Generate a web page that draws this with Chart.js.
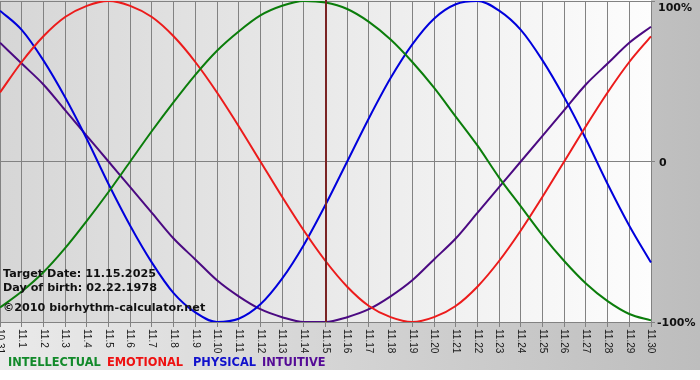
<!DOCTYPE html>
<html>
<head>
<meta charset="utf-8">
<title>Biorhythm</title>
<script src="https://cdn.jsdelivr.net/npm/chart.js@4.4.1/dist/chart.umd.min.js"></script>
<style>
    html, body { margin: 0; padding: 0; background: #fff; }
    #wrap { position: relative; width: 700px; height: 380px; }
</style>
</head>
<body>
<div id="wrap"><canvas id="bioChart"></canvas></div>
<script>
// 日期（横轴）
const days = ['10.31', '11.1', '11.2', '11.3', '11.4', '11.5', '11.6', '11.7', '11.8', '11.9',
    '11.10', '11.11', '11.12', '11.13', '11.14', '11.15', '11.16', '11.17', '11.18', '11.19',
    '11.20', '11.21', '11.22', '11.23', '11.24', '11.25', '11.26', '11.27', '11.28', '11.29', '11.30'];

// 曲线数值（-1 .. 1）
const intellectual = [-0.91, -0.81, -0.69, -0.54, -0.37, -0.19, 0.00, 0.19, 0.37, 0.54, 0.69, 0.81, 0.91, 0.97, 1.00, 0.99,
    0.95, 0.87, 0.76, 0.62, 0.46, 0.28, 0.10, -0.10, -0.28, -0.46, -0.62, -0.76, -0.87, -0.95, -0.99];
const emotional = [0.43, 0.62, 0.78, 0.90, 0.97, 1.00, 0.97, 0.90, 0.78, 0.62, 0.43, 0.22, 0.00, -0.22, -0.43, -0.62,
    -0.78, -0.90, -0.97, -1.00, -0.97, -0.90, -0.78, -0.62, -0.43, -0.22, 0.00, 0.22, 0.43, 0.62, 0.78];
const physical = [0.94, 0.82, 0.63, 0.40, 0.14, -0.14, -0.40, -0.63, -0.82, -0.94, -1.00, -0.98, -0.89, -0.73, -0.52, -0.27,
    0.00, 0.27, 0.52, 0.73, 0.89, 0.98, 1.00, 0.94, 0.82, 0.63, 0.40, 0.14, -0.14, -0.40, -0.63];
const intuitive = [0.74, 0.61, 0.48, 0.32, 0.16, 0.00, -0.16, -0.32, -0.48, -0.61, -0.74, -0.84, -0.92, -0.97, -1.00, -1.00,
    -0.97, -0.92, -0.84, -0.74, -0.61, -0.48, -0.32, -0.16, 0.00, 0.16, 0.32, 0.48, 0.61, 0.74, 0.84];

// 右侧刻度
const yTicks = [1, 0, -1];
const yTickLabels = ['100%', '0', '-100%'];

const seriesNames = ['INTELLECTUAL', 'EMOTIONAL', 'PHYSICAL', 'INTUITIVE'];
const targetDay = '11.15';
const infoLines = ['Target Date: 11.15.2025', 'Day of birth: 02.22.1978', '\u00a92010 biorhythm-calculator.net'];

const lineColors = ['#0b7d0b', '#ec1b1b', '#0000dc', '#4b0a82'];
const textColors = ['#128a2a', '#ee1111', '#1111cc', '#540a96'];
const legendX = [8, 107, 193, 262];

// 背景
const backgroundPlugin = {
    id: 'bioBackground',
    beforeDraw(chart) {
        const { ctx, width, height, chartArea: a } = chart;
        ctx.save();
        ctx.fillStyle = '#ffffff';
        ctx.fillRect(0, 0, width, height);
        let g = ctx.createLinearGradient(0, 0, width, 0);
        g.addColorStop(0, '#eaeaea');
        g.addColorStop(1, '#bdbdbd');
        ctx.fillStyle = g;
        ctx.fillRect(0, 0, width, 370);
        g = ctx.createLinearGradient(a.left, 0, a.right, 0);
        g.addColorStop(0, '#d6d6d6');
        g.addColorStop(1, '#fdfdfd');
        ctx.fillStyle = g;
        ctx.fillRect(a.left, 0, a.right - a.left, a.bottom);
        ctx.restore();
    }
};

// 目标日竖线 + 说明文字
const overlayPlugin = {
    id: 'bioOverlay',
    afterDatasetsDraw(chart) {
        const { ctx, chartArea: a } = chart;
        const x = Math.round(chart.scales.x.getPixelForValue(days.indexOf(targetDay)));
        ctx.save();
        ctx.strokeStyle = '#7a2424';
        ctx.lineWidth = 2;
        ctx.beginPath();
        ctx.moveTo(x, 0);
        ctx.lineTo(x, a.bottom);
        ctx.stroke();

        ctx.fillStyle = '#111';
        ctx.font = 'bold 11.2px "DejaVu Sans"';
        ctx.textAlign = 'left';
        ctx.textBaseline = 'alphabetic';
        const baselines = [277, 291, 311];
        infoLines.forEach((t, i) => ctx.fillText(t, 3, baselines[i]));
        ctx.restore();
    },
    afterDraw(chart) {
        const { ctx, chartArea: a } = chart;
        const xs = chart.scales.x;
        const ys = chart.scales.y;
        ctx.save();

        // 横轴日期（竖排）
        ctx.fillStyle = '#1a1a1a';
        ctx.font = '10px "Liberation Sans"';
        ctx.textAlign = 'left';
        ctx.textBaseline = 'middle';
        days.forEach((d, i) => {
            const x = xs.getPixelForValue(i);
            ctx.save();
            ctx.translate(x, a.bottom + 7);
            ctx.rotate(Math.PI / 2);
            ctx.fillText(d, 0, 0);
            ctx.restore();
        });

        // 右侧百分比
        ctx.fillStyle = '#111';
        ctx.font = 'bold 11px "DejaVu Sans"';
        yTicks.forEach((v, i) => {
            const y = ys.getPixelForValue(v);
            if (v === 1) {
                ctx.textBaseline = 'top';
                ctx.fillText(yTickLabels[i], 658, y + 2);
            } else {
                ctx.textBaseline = 'middle';
                ctx.fillText(yTickLabels[i], v === 0 ? 659 : 657, y + 1.5);
            }
        });

        // 图例
        ctx.font = 'bold 11.4px "DejaVu Sans"';
        ctx.textBaseline = 'alphabetic';
        seriesNames.forEach((n, i) => {
            ctx.fillStyle = textColors[i];
            ctx.fillText(n, legendX[i], 366);
        });
        ctx.restore();
    }
};

function initBioChart() {
    const ctx = document.getElementById('bioChart');
    const seriesData = [intellectual, emotional, physical, intuitive];

    new Chart(ctx, {
        type: 'line',
        data: {
            labels: days,
            datasets: seriesNames.map((name, i) => ({
                label: name,
                data: seriesData[i],
                borderColor: lineColors[i],
                borderWidth: 2,
                pointRadius: 0,
                cubicInterpolationMode: 'monotone',
                fill: false
            }))
        },
        options: {
            responsive: true,
            maintainAspectRatio: false,
            animation: false,
            devicePixelRatio: 1,
            layout: { padding: { top: 1, left: 0, right: 0, bottom: 0 } },
            plugins: {
                legend: { display: false },
                tooltip: { enabled: false }
            },
            scales: {
                x: {
                    type: 'category',
                    offset: false,
                    grid: {
                        color: '#828282',
                        lineWidth: 1,
                        drawTicks: true,
                        tickLength: 5
                    },
                    border: { color: '#828282' },
                    ticks: { display: false },
                    afterFit(scale) { scale.height = 58; }
                },
                y: {
                    position: 'right',
                    min: -1,
                    max: 1,
                    grid: {
                        color: '#828282',
                        drawTicks: true,
                        tickLength: 4
                    },
                    border: { color: '#828282' },
                    ticks: { display: false, stepSize: 1 },
                    afterFit(scale) { scale.width = 49; }
                }
            }
        },
        plugins: [backgroundPlugin, overlayPlugin]
    });
}

document.addEventListener('DOMContentLoaded', initBioChart);
</script>
</body>
</html>
